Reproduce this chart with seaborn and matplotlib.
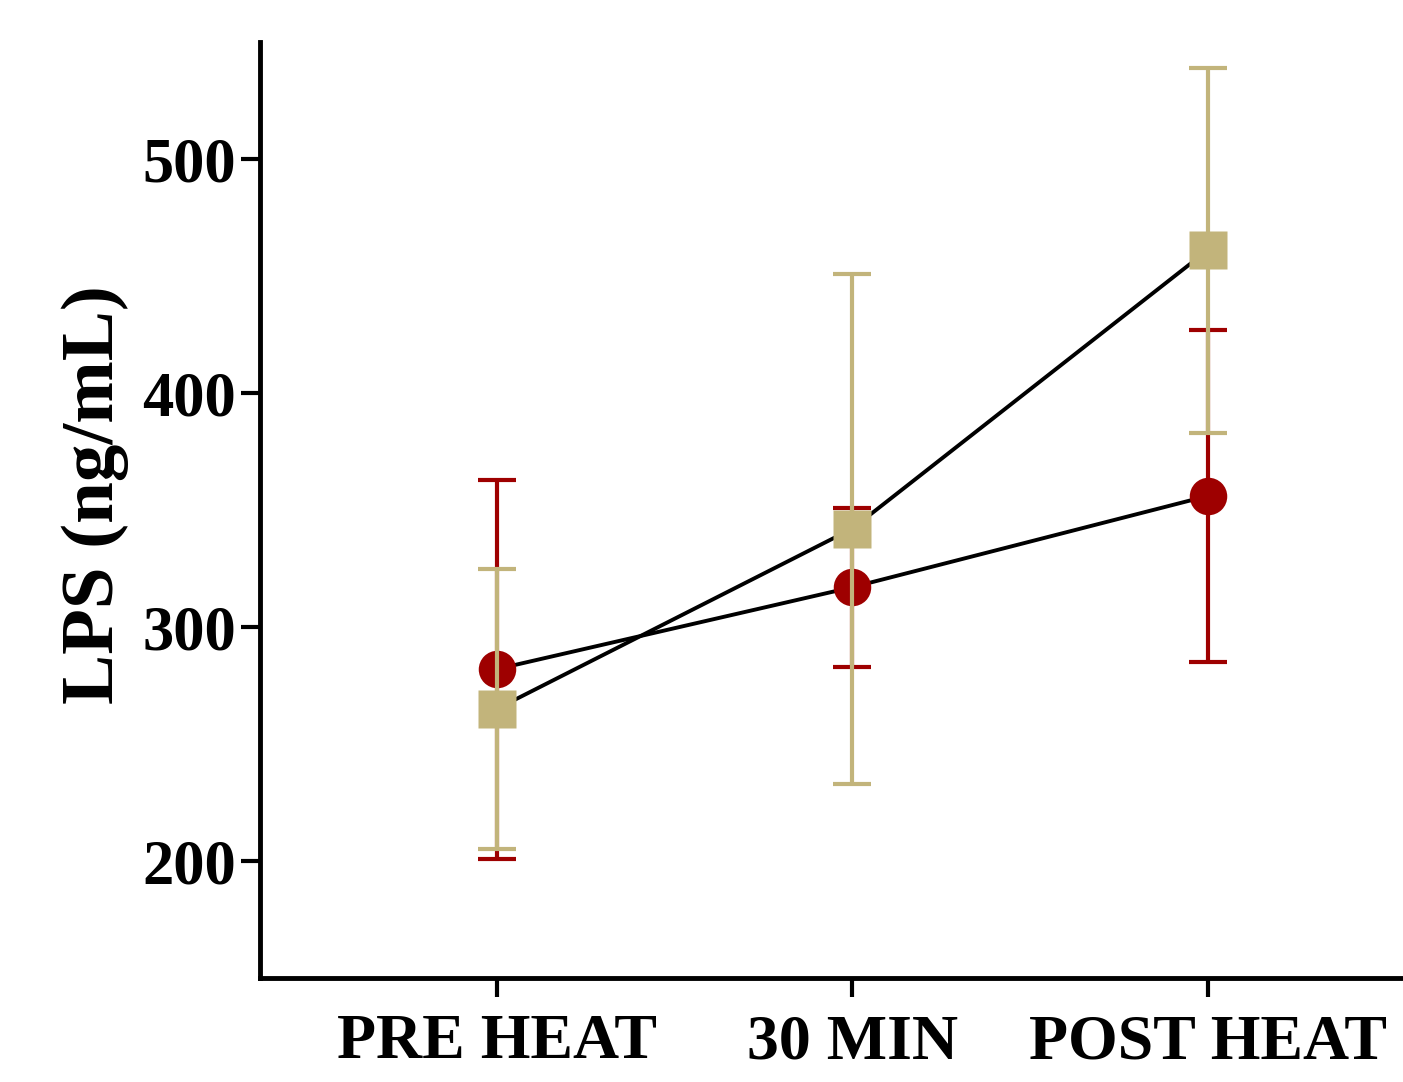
import numpy as np
import pandas as pd
import seaborn as sns
from matplotlib import pyplot as plt

timepoints = ["PRE HEAT", "30 MIN", "POST HEAT"]
red_mean = [282, 317, 356]
red_sd = [81, 34, 71]
tan_mean = [265, 342, 461]
tan_sd = [60, 109, 78]

sns.set_style("ticks", {"axes.edgecolor": "black", "text.color": "black",
                        "xtick.color": "black", "ytick.color": "black",
                        "axes.labelcolor": "black"})
plt.rcParams['font.family'] = ['Liberation Serif', 'DejaVu Serif']
plt.rcParams['font.weight'] = 'bold'

df = pd.DataFrame({
    "time": timepoints * 2,
    "pos": list(range(len(timepoints))) * 2,
    "group": ["red"] * 3 + ["tan"] * 3,
    "mean": red_mean + tan_mean,
    "sd": red_sd + tan_sd,
})

fig = plt.figure(figsize=(14.03, 10.82), dpi=100)
ax = fig.add_axes([0.1853, 0.0961, 0.8147, 0.8650])

# connecting lines
sns.lineplot(data=df, x="pos", y="mean", units="group", estimator=None,
             color="black", lw=2.8, ax=ax, zorder=1, legend=False)

styles = {"red": ("#9E0000", "o", 27, 3), "tan": ("#C2B47B", "s", 28, 4)}
for g, (col, mk, ms, z) in styles.items():
    d = df[df.group == g]
    ax.errorbar(d["pos"], d["mean"], yerr=d["sd"], fmt=mk, color=col,
                ms=ms, mec="none", elinewidth=3, capsize=14, capthick=3,
                zorder=z)

ax.set_xlim(-0.666, 2.55)
ax.set_ylim(150, 550)
ax.set_yticks([200, 300, 400, 500])
ax.set_xticks(range(len(timepoints)))
ax.set_xticklabels(timepoints)
ax.set_xlabel("")
ax.set_ylabel("LPS (ng/mL)", fontsize=54, fontweight="bold", color="black")
ax.yaxis.set_label_coords(-0.115, 0.516)

sns.despine(ax=ax)
for s in ["left", "bottom"]:
    ax.spines[s].set_linewidth(3.5)
    ax.spines[s].set_color("black")
ax.tick_params(axis="y", length=14, width=3, labelsize=45, pad=3,
               colors="black")
ax.tick_params(axis="x", length=14, width=3, labelsize=46, pad=12,
               colors="black")
for lab in ax.get_xticklabels() + ax.get_yticklabels():
    lab.set_fontweight("bold")

fig.savefig("out.png", dpi=100)
